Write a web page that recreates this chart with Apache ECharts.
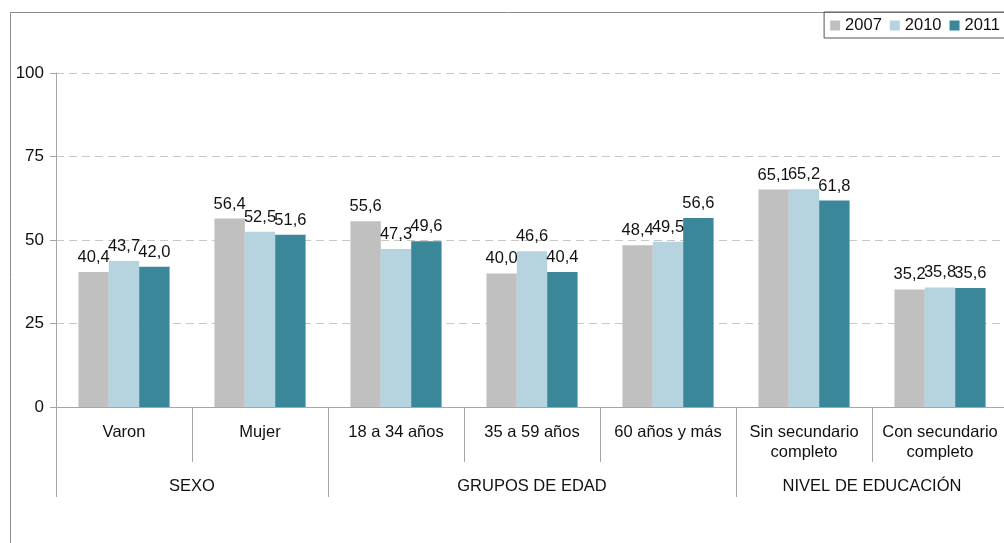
<!DOCTYPE html>
<html>
<head>
<meta charset="utf-8">
<script src="https://cdn.jsdelivr.net/npm/echarts@6/dist/echarts.min.js"></script>
<style>
  html, body { margin: 0; padding: 0; background: #fff; }
  #chart { width: 1004px; height: 543px; }
</style>
</head>
<body>
<div id="chart"></div>
<script>
// categorias y grupos
const categories = ['Varon', 'Mujer', '18 a 34 años', '35 a 59 años', '60 años y más', 'Sin secundario\ncompleto', 'Con secundario\ncompleto']
const groupNames = ['SEXO', 'GRUPOS DE EDAD', 'NIVEL DE EDUCACIÓN']
const groupCenters = [1, 3.5, 6]
const groupBounds = [0, 2, 5, 7]
const yTicks = [0, 25, 50, 75, 100]

const years = ['2007', '2010', '2011']
const values2007 = [40.4, 56.4, 55.6, 40.0, 48.4, 65.1, 35.2]
const values2010 = [43.7, 52.5, 47.3, 46.6, 49.5, 65.2, 35.8]
const values2011 = [42.0, 51.6, 49.6, 40.4, 56.6, 61.8, 35.6]

const colors = ['#c0c0c0', '#b5d4df', '#3a8799']
const font = 'Liberation Sans, Arial, sans-serif'
const axisGray = '#a6a6a6'
const fs = 16.5

const chart = echarts.init(document.getElementById('chart'))

const fmt = v => v.toFixed(1).replace('.', ',')

const option = {
  animation: false,
  color: colors,
  textStyle: { fontFamily: font },
  graphic: [
    { type: 'line', shape: { x1: 10.5, y1: 12.5, x2: 1004, y2: 12.5 }, style: { stroke: '#8c8c8c', lineWidth: 1 } },
    { type: 'line', shape: { x1: 10.5, y1: 12.5, x2: 10.5, y2: 543 }, style: { stroke: '#8c8c8c', lineWidth: 1 } }
  ],
  legend: {
    data: years,
    right: -2,
    top: 12,
    orient: 'horizontal',
    borderColor: '#555',
    borderWidth: 1,
    borderRadius: 0,
    padding: [5, 6, 4, 6],
    itemWidth: 10,
    itemHeight: 10,
    itemGap: 8,
    icon: 'rect',
    textStyle: { fontSize: fs, color: '#111', fontFamily: font }
  },
  grid: {
    left: 56,
    width: 952,
    top: 73,
    bottom: 136,
    containLabel: false,
    outerBoundsMode: 'none'
  },
  xAxis: [
    {
      type: 'category',
      data: categories,
      position: 'bottom',
      axisLine: { lineStyle: { color: axisGray, width: 1 } },
      axisTick: { show: true, interval: 0, length: 55, lineStyle: { color: axisGray } },
      axisLabel: {
        interval: 0,
        margin: 15,
        fontSize: fs,
        lineHeight: 20,
        color: '#111',
        fontFamily: font
      }
    },
    {
      type: 'value',
      min: 0,
      max: 7,
      position: 'bottom',
      offset: 0,
      splitLine: { show: false },
      axisLine: { show: false },
      axisTick: {
        show: true,
        customValues: groupBounds,
        length: 90,
        lineStyle: { color: axisGray }
      },
      axisLabel: {
        show: true,
        customValues: groupCenters,
        margin: 71,
        fontSize: fs,
        color: '#111',
        fontFamily: font,
        formatter: v => groupNames[groupCenters.indexOf(v)] || ''
      }
    }
  ],
  yAxis: {
    type: 'value',
    min: yTicks[0],
    max: yTicks[yTicks.length - 1],
    interval: 25,
    axisLine: { show: true, lineStyle: { color: axisGray } },
    axisTick: { show: true, length: 6, lineStyle: { color: axisGray } },
    axisLabel: { fontSize: 17, color: '#111', margin: 12, fontFamily: font },
    splitLine: { show: true, lineStyle: { color: '#c8c8c8', type: [8, 5] } }
  },
  series: [values2007, values2010, values2011].map((vals, i) => ({
    name: years[i],
    type: 'bar',
    xAxisIndex: 0,
    data: vals,
    barGap: '0%',
    barCategoryGap: '33%',
    label: {
      show: true,
      position: 'top',
      distance: 6,
      fontSize: fs,
      color: '#111',
      fontFamily: font,
      formatter: p => fmt(p.value)
    }
  }))
}

chart.setOption(option)
</script>
</body>
</html>
